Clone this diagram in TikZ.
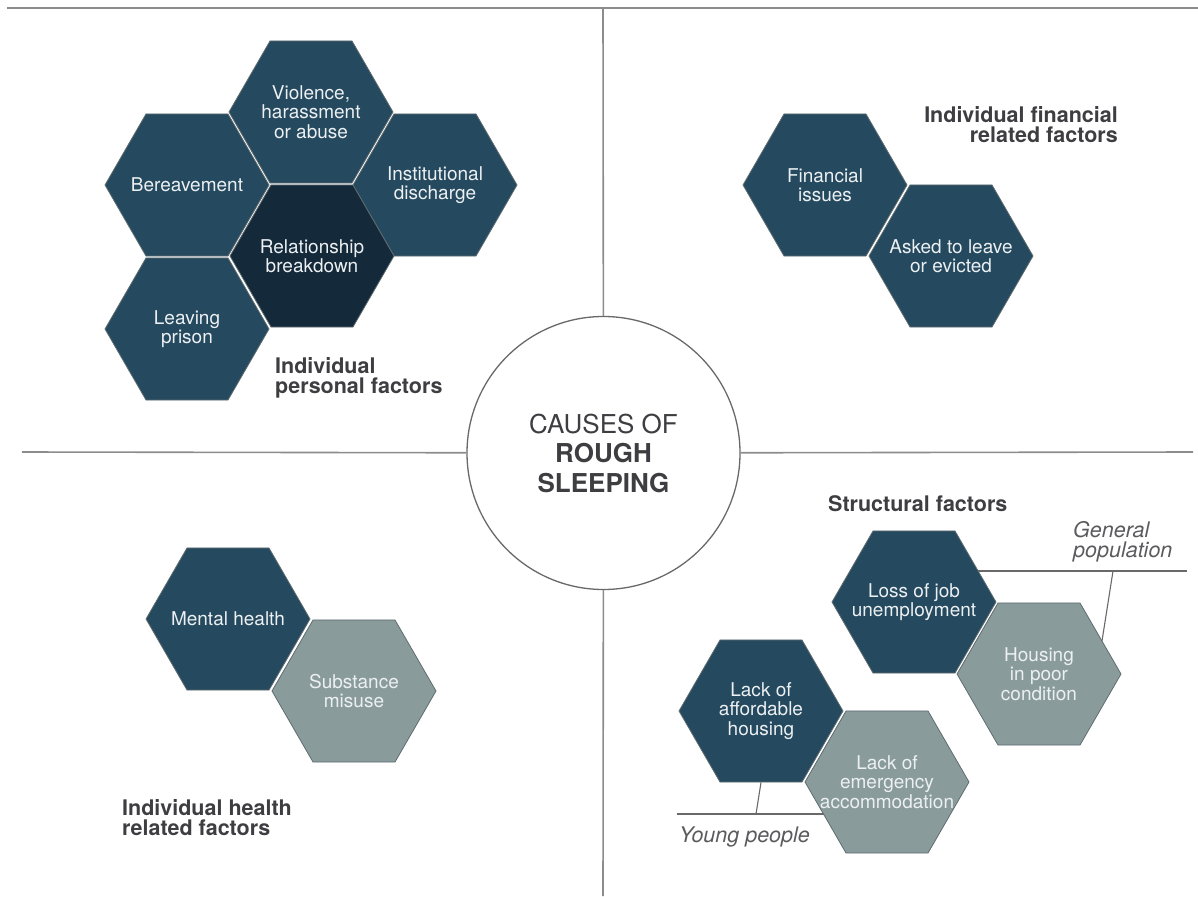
\documentclass[tikz,border=0pt]{standalone}
\usepackage{fontspec}
\setmainfont{TeX Gyre Heros}
\usetikzlibrary{shapes.geometric, backgrounds}
\definecolor{roughnavy}{RGB}{37, 73, 94}
\definecolor{roughdeep}{RGB}{20, 41, 58}
\definecolor{roughgray}{RGB}{138, 155, 156}
\definecolor{roughedge}{RGB}{95, 108, 112}
\definecolor{roughline}{RGB}{140, 140, 140}
\definecolor{roughrim}{RGB}{105, 105, 105}
\definecolor{roughtext}{RGB}{62, 62, 66}
\definecolor{roughlight}{RGB}{236, 240, 242}

\begin{document}
\begin{tikzpicture}[
    x=1pt, y=-1pt,
    hexagon/.style={
        regular polygon,
        regular polygon sides=6,
        minimum size=164pt,
        inner sep=0pt,
        draw=roughedge,
        line width=0.8pt,
        fill=roughnavy
    },
    hextext/.style={
        text=roughlight,
        align=center,
        inner sep=0pt,
        font=\fontsize{19}{19.5}\selectfont
    },
    hub/.style={
        circle,
        draw=roughrim,
        line width=1.3pt,
        fill=white,
        minimum size=273pt,
        align=center,
        text=roughtext,
        font=\fontsize{26}{29.5}\selectfont
    },
    frame/.style={
        draw=roughline,
        line width=1.6pt
    },
    callout/.style={
        draw=roughrim,
        line width=1.1pt
    },
    category/.style={
        inner sep=0pt,
        text=roughtext,
        font=\fontsize{21.5}{20.5}\selectfont\bfseries
    },
    group/.style={
        inner sep=0pt,
        align=left,
        text=roughtext!85,
        font=\fontsize{21.5}{20.5}\selectfont\itshape
    }
]

\useasboundingbox (0,0) rectangle (1198,896);

% Centre
\node[hub] (hub) at (603.5,453) {CAUSES OF\\\textbf{ROUGH}\\\textbf{SLEEPING}};

% Frame lines
\coordinate (topleft) at (7,8);
\coordinate (topright) at (1198,8);
\coordinate (vtop) at (603,8);
\coordinate (vbottom) at (603,896);
\coordinate (hleft) at (22,452);
\coordinate (hright) at (1193,452);
\draw[frame] (topleft) -- (topright);
\draw[frame] (vtop) -- (hub);
\draw[frame] (hub) -- (vbottom);
\draw[frame] (hleft) -- (hub);
\draw[frame] (hub) -- (hright);

% Individual personal factors
\node[hexagon, label={[hextext]center:{Violence,\\harassment\\or abuse}}] (violence) at (311,112) {};
\node[hexagon, label={[hextext]center:Bereavement}] (bereavement) at (187,185) {};
\node[hexagon, label={[hextext]center:{Institutional\\discharge}}] (discharge) at (435,185) {};
\node[hexagon, fill=roughdeep, label={[hextext]center:{Relationship\\breakdown}}] (breakdown) at (312,256) {};
\node[hexagon, label={[hextext]center:{Leaving\\prison}}] (prison) at (187,329) {};
\node[category, anchor=north west, align=left] (personal) at (275,357) {Individual\\personal factors};

% Individual financial related factors
\node[hexagon, label={[hextext]center:{Financial\\issues}}] (financial) at (825,185) {};
\node[hexagon, label={[hextext]center:{Asked to leave\\or evicted}}] (evicted) at (951,256) {};
\node[category, anchor=north east, align=right] (money) at (1118,106) {Individual financial\\related factors};

% Individual health related factors
\node[hexagon, label={[hextext]center:{Mental health}}] (mental) at (228,619) {};
\node[hexagon, fill=roughgray, label={[hextext]center:{Substance\\misuse}}] (substance) at (354,691) {};
\node[category, anchor=north west, align=left] (health) at (122,799) {Individual health\\related factors};

% Structural factors
\node[category, anchor=north west] (structural) at (828,495) {Structural factors};
\node[hexagon, label={[hextext]center:{Loss of job\\unemployment}}] (lossjob) at (914,602) {};
\node[hexagon, fill=roughgray, label={[hextext]center:{Housing\\in poor\\condition}}] (housing) at (1039,674) {};
\node[hexagon, label={[hextext]center:{Lack of\\affordable\\housing}}] (affordable) at (761,711) {};
\node[hexagon, fill=roughgray, label={[hextext]center:{Lack of\\emergency\\accommodation}}] (emergency) at (887,782) {};
\node[group, anchor=north west] (general) at (1073,521) {General\\population};
\node[group, anchor=north west] (young) at (679,827) {Young people};

% Callouts
\coordinate (genend) at (1187,571);
\coordinate (gentick) at (1113,571);
\coordinate (gentip) at (1099,660);
\coordinate (youngend) at (677,814);
\coordinate (youngtick) at (756,814);
\begin{scope}[on background layer]
    \draw[callout] (lossjob.center |- genend) -- (genend);
    \draw[callout] (gentick) -- (gentip);
    \draw[callout] (youngend) -- (emergency.center |- youngend);
    \draw[callout] (youngtick) -- (affordable.south);
\end{scope}

\end{tikzpicture}
\end{document}
